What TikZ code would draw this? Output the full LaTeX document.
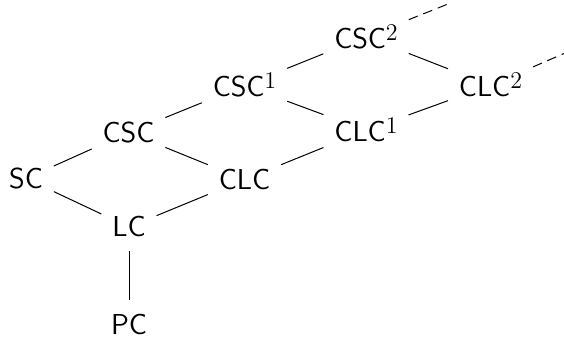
\documentclass[tikz,border=0pt]{standalone}
\newcommand\supx[1]{\raisebox{4.1pt}{\fontsize{12}{12}\selectfont$#1$}}
\begin{document}
\begin{tikzpicture}[x=0.5pt,y=-0.5pt,
  lbl/.style={font=\sffamily\fontsize{14.4}{17}\selectfont, inner xsep=5.3pt, inner ysep=6.8pt, anchor=base},
  edge/.style={line width=0.5pt},
  dedge/.style={line width=0.5pt, dash pattern=on 4.8pt off 3pt}]
\useasboundingbox (0,0) rectangle (564,341);
\node[lbl] (SC)   at (26,188.5)   {SC};
\node[lbl] (CSC)  at (128.5,142.5) {CSC};
\node[lbl] (LC)   at (129,237)    {LC};
\node[lbl] (PC)   at (129,334.5)  {PC};
\node[lbl] (CLC)  at (244.5,189.5) {CLC};
\node[lbl] (CSC1) at (244.5,97)   {CSC\supx{1}};
\node[lbl] (CLC1) at (366,142)    {CLC\supx{1}};
\node[lbl] (CSC2) at (366,48.3)   {CSC\supx{2}};
\node[lbl] (CLC2) at (490.5,97)   {CLC\supx{2}};
\coordinate (c3) at (448,4);
\coordinate (c4) at (564,53.5);
\draw[edge] (SC) -- (CSC);
\draw[edge] (SC) -- (LC);
\draw[edge] (CSC) -- (CLC);
\draw[edge] (LC) -- (CLC);
\draw[edge] (LC) -- (PC);
\draw[edge] (CSC) -- (CSC1);
\draw[edge] (CSC1) -- (CLC1);
\draw[edge] (CLC) -- (CLC1);
\draw[edge] (CSC1) -- (CSC2);
\draw[edge] (CSC2) -- (CLC2);
\draw[edge] (CLC1) -- (CLC2);
\draw[dedge] (CSC2) -- (c3);
\draw[dedge] (CLC2) -- (c4);
\end{tikzpicture}
\end{document}
